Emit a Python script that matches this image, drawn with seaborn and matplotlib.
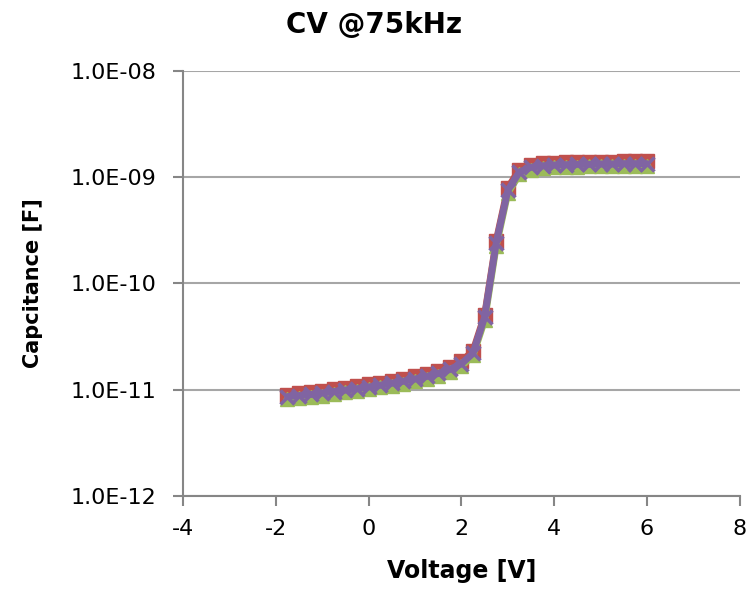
import numpy as np
import pandas as pd
import seaborn as sns
import matplotlib.pyplot as plt
from matplotlib.ticker import FuncFormatter, FixedLocator, NullLocator

sns.set_style("white")
plt.rcParams['font.family'] = ['DejaVu Sans']
plt.rcParams['axes.unicode_minus'] = False
plt.rcParams['text.color'] = 'black'
plt.rcParams['axes.labelcolor'] = 'black'
plt.rcParams['xtick.color'] = 'black'
plt.rcParams['ytick.color'] = 'black'

voltage = [-1.75, -1.5, -1.25, -1.0, -0.75, -0.5, -0.25, 0.0, 0.25, 0.5, 0.75, 1.0,
           1.25, 1.5, 1.75, 2.0, 2.25, 2.5, 2.75, 3.0, 3.25, 3.5, 3.75, 4.0,
           4.25, 4.5, 4.75, 5.0, 5.25, 5.5, 5.75, 6.0]

cap_red = [8.9e-12, 9.2e-12, 9.5e-12, 9.8e-12, 1.01e-11, 1.04e-11, 1.08e-11, 1.12e-11,
           1.16e-11, 1.21e-11, 1.27e-11, 1.33e-11, 1.41e-11, 1.50e-11, 1.64e-11, 1.85e-11,
           2.3e-11, 5.0e-11, 2.5e-10, 7.9e-10, 1.18e-9, 1.31e-9, 1.35e-9, 1.37e-9,
           1.38e-9, 1.39e-9, 1.39e-9, 1.40e-9, 1.40e-9, 1.41e-9, 1.41e-9, 1.42e-9]

cap_green = [8.2e-12, 8.4e-12, 8.6e-12, 8.8e-12, 9.1e-12, 9.4e-12, 9.7e-12, 1.01e-11,
             1.05e-11, 1.09e-11, 1.14e-11, 1.20e-11, 1.26e-11, 1.35e-11, 1.47e-11, 1.66e-11,
             2.1e-11, 4.5e-11, 2.25e-10, 7.1e-10, 1.06e-9, 1.18e-9, 1.22e-9, 1.24e-9,
             1.25e-9, 1.25e-9, 1.26e-9, 1.26e-9, 1.27e-9, 1.27e-9, 1.27e-9, 1.28e-9]

cap_purple = [8.6e-12, 8.8e-12, 9.0e-12, 9.3e-12, 9.6e-12, 9.9e-12, 1.02e-11, 1.06e-11,
              1.10e-11, 1.15e-11, 1.20e-11, 1.26e-11, 1.33e-11, 1.42e-11, 1.55e-11, 1.75e-11,
              2.2e-11, 4.8e-11, 2.4e-10, 7.5e-10, 1.12e-9, 1.24e-9, 1.28e-9, 1.30e-9,
              1.31e-9, 1.32e-9, 1.32e-9, 1.33e-9, 1.33e-9, 1.34e-9, 1.34e-9, 1.34e-9]

y_ticks = [1e-12, 1e-11, 1e-10, 1e-9, 1e-8]
x_ticks = [-4, -2, 0, 2, 4, 6, 8]

series = [
    (cap_red, '#C0504D', 's', 9.5, 1),
    (cap_green, '#9BBB59', '^', 10.5, 1),
    (cap_purple, '#8064A2', 'x', 9.5, 2.5),
]

fig = plt.figure(figsize=(7.48, 5.96), dpi=100)
ax = fig.add_axes([0.2447, 0.168, 0.7443, 0.713])

for vals, col, mk, ms, mew in series:
    df = pd.DataFrame({'V': voltage, 'C': vals})
    sns.lineplot(data=df, x='V', y='C', ax=ax, color=col, linewidth=5,
                 marker=mk, markersize=ms, markeredgecolor=col,
                 markeredgewidth=mew, markerfacecolor=col)

ax.set_yscale('log')
ax.set_ylim(1e-12, 1e-8)
ax.set_xlim(-4, 8)
ax.yaxis.set_major_locator(FixedLocator(y_ticks))
ax.yaxis.set_minor_locator(NullLocator())
ax.set_xticks(x_ticks)
ax.xaxis.set_major_formatter(FuncFormatter(lambda v, p: "%d" % v))
ax.yaxis.set_major_formatter(FuncFormatter(lambda v, p: "%.1fE-%02d" % (1.0, round(-np.log10(v)))))

ax.grid(axis='y', color='#A6A6A6', linewidth=1.5)
ax.grid(axis='x', visible=False)
ax.set_axisbelow(True)
for s in ['top', 'right']:
    ax.spines[s].set_visible(False)
for s in ['left', 'bottom']:
    ax.spines[s].set_color('#868686')
    ax.spines[s].set_linewidth(1.5)

ax.tick_params(axis='both', which='major', direction='out', length=7, width=1.5,
               color='#868686', labelcolor='black', left=True, bottom=True)
ax.tick_params(axis='y', pad=12)
ax.tick_params(axis='x', pad=10)
for lab in ax.get_xticklabels() + ax.get_yticklabels():
    lab.set_fontsize(16)

ax.set_xlabel("Voltage [V]", fontsize=17, fontweight='bold', labelpad=14)
ax.set_ylabel("Capcitance [F]", fontsize=15, fontweight='bold', labelpad=20)
fig.text(0.5, 0.958, "CV @75kHz", fontsize=20, fontweight='bold',
         ha='center', va='center')

fig.savefig("out.png", dpi=100)
